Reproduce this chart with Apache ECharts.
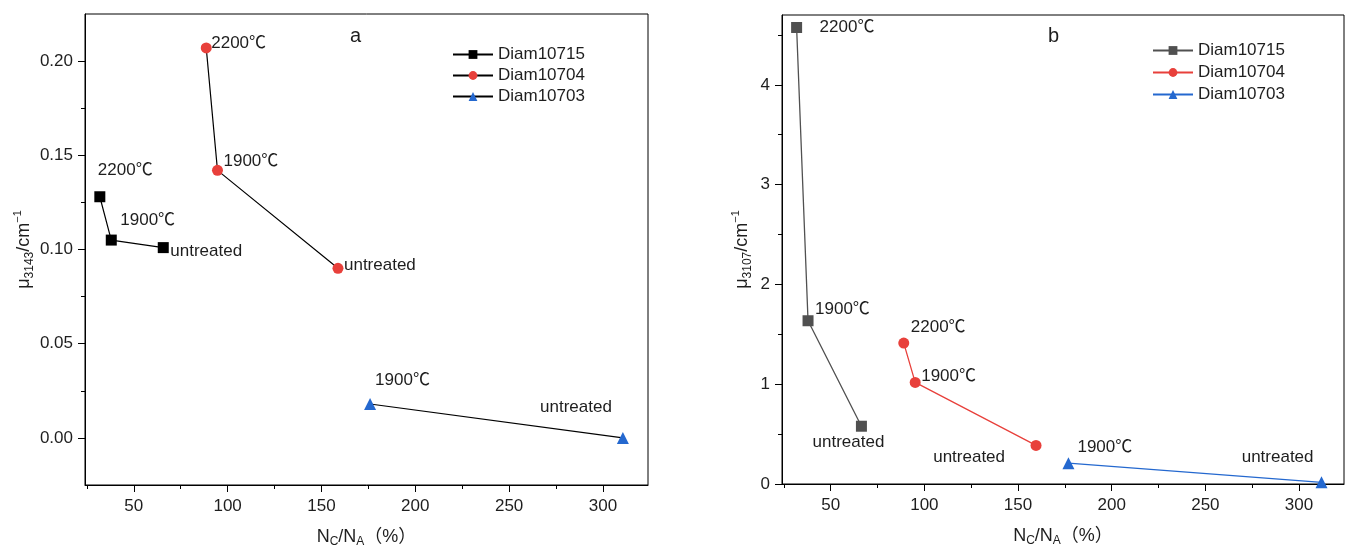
<!DOCTYPE html>
<html>
<head>
<meta charset="utf-8">
<script src="https://cdn.jsdelivr.net/npm/echarts@6/dist/echarts.min.js"></script>
<style>html,body{margin:0;padding:0;background:#fff;}#c{width:1347px;height:547px;}</style>
</head>
<body>
<div id="c"></div>
<script>
// ---- data ----
const seriesNames = ['Diam10715', 'Diam10704', 'Diam10703'];
const xTicks = [50, 100, 150, 200, 250, 300];
const xMinorTicks = [25, 75, 125, 175, 225, 275];
const yTicksA = [0, 0.05, 0.10, 0.15, 0.20];
const yMinorA = [0.025, 0.075, 0.125, 0.175];
const yTicksB = [0, 1, 2, 3, 4];
const yMinorB = [0.5, 1.5, 2.5, 3.5, 4.5];

// panel a : mu3143
const aX10715 = [31.9, 38.0, 65.7];
const aY10715 = [0.128, 0.105, 0.101];
const aX10704 = [88.6, 94.6, 158.8];
const aY10704 = [0.207, 0.142, 0.090];
const aX10703 = [175.9, 310.6];
const aY10703 = [0.018, 0.000];
// panel b : mu3107
const bX10715 = [31.8, 37.9, 66.4];
const bY10715 = [4.575, 1.636, 0.579];
const bX10704 = [89.0, 95.1, 159.6];
const bY10704 = [1.412, 1.018, 0.387];
const bX10703 = [176.9, 312.0];
const bY10703 = [0.209, 0.017];

const pointText3 = ['2200℃', '1900℃', 'untreated'];
const pointText2 = ['1900℃', 'untreated'];

// ---- label layout (styling, not data) ----
const layA = {
  s1: [[-2, -26, 'left'], [9, -20, 'left'], [7, 4, 'left']],
  s2: [[5, -5, 'left'], [6, -9, 'left'], [6, -3, 'left']],
  s3: [[5, -24, 'left'], [-11, -31, 'right']]
};
const layB = {
  s1: [[23, 0, 'left'], [7, -11, 'left'], [-13, 16, 'center']],
  s2: [[7, -16, 'left'], [6, -6, 'left'], [-31, 12, 'right']],
  s3: [[9, -16, 'left'], [-8, -25, 'right']]
};

const FONT = '"Liberation Sans", Arial, "Noto Sans CJK SC", sans-serif';
const TXT = '#1e1e1e';
const RED = '#e8403b';
const BLUE = '#2468cf';

function pts(xs, ys, texts, lay) {
  return xs.map((x, i) => ({
    value: [x, ys[i]],
    label: {
      show: true, formatter: texts[i], position: 'inside',
      offset: [lay[i][0], lay[i][1]], align: lay[i][2], verticalAlign: 'middle',
      fontSize: 17, color: TXT, fontFamily: FONT
    }
  }));
}

function mainX(g) {
  return {
    type: 'value', gridIndex: g, min: 24, max: 324, position: 'bottom',
    axisLine: { show: true, onZero: false, lineStyle: { color: '#000', width: 1 } },
    axisTick: { show: true, inside: false, length: 7, customValues: xTicks, lineStyle: { color: '#000' } },
    axisLabel: { customValues: xTicks, margin: 13, fontSize: 17, color: TXT, fontFamily: FONT },
    splitLine: { show: false },
    name: 'N{sub|C}/N{sub|A}（%）', nameLocation: 'middle', nameGap: 41,
    nameTextStyle: {
      fontSize: 18, color: TXT, fontFamily: FONT, lineHeight: 22,
      rich: { sub: { fontSize: 12, verticalAlign: 'bottom', lineHeight: 14, color: TXT, fontFamily: FONT } }
    }
  };
}
function minorX(g) {
  return {
    type: 'value', gridIndex: g, min: 24, max: 324, position: 'bottom',
    axisLine: { show: false, onZero: false },
    axisTick: { show: true, inside: false, length: 4, customValues: xMinorTicks, lineStyle: { color: '#000' } },
    axisLabel: { show: false }, splitLine: { show: false }
  };
}
function mainY(g, min, max, ticks, fmt, nameStr, gap) {
  return {
    type: 'value', gridIndex: g, min: min, max: max, position: 'left',
    axisLine: { show: true, onZero: false, lineStyle: { color: '#000', width: 1 } },
    axisTick: { show: true, inside: false, length: 7, customValues: ticks, lineStyle: { color: '#000' } },
    axisLabel: { customValues: ticks, margin: 12, fontSize: 17, color: TXT, fontFamily: FONT, formatter: fmt },
    splitLine: { show: false },
    name: nameStr, nameLocation: 'middle', nameRotate: 90, nameGap: gap,
    nameTextStyle: {
      fontSize: 18, color: TXT, fontFamily: FONT, lineHeight: 24,
      rich: {
        sub: { fontSize: 12, verticalAlign: 'bottom', lineHeight: 15, color: TXT, fontFamily: FONT },
        sup: { fontSize: 11, verticalAlign: 'top', lineHeight: 14, color: TXT, fontFamily: FONT }
      }
    }
  };
}
function minorY(g, min, max, ticks) {
  return {
    type: 'value', gridIndex: g, min: min, max: max, position: 'left',
    axisLine: { show: false, onZero: false },
    axisTick: { show: true, inside: false, length: 4, customValues: ticks, lineStyle: { color: '#000' } },
    axisLabel: { show: false }, splitLine: { show: false }
  };
}

function lineSeries(name, xi, yi, data, symbol, size, markColor, lineColor, lw) {
  return {
    name: name, type: 'line', xAxisIndex: xi, yAxisIndex: yi, data: data,
    symbol: symbol, symbolSize: size, showAllSymbol: true,
    itemStyle: { color: markColor },
    lineStyle: { color: lineColor, width: lw },
    emphasis: { disabled: true }, z: 3
  };
}

const chart = echarts.init(document.getElementById('c'), null, { renderer: 'canvas' });
chart.setOption({
  animation: false,
  backgroundColor: '#fff',
  title: [
    { text: 'a', left: 345, top: 21, textStyle: { fontSize: 20, fontWeight: 'normal', color: TXT, fontFamily: FONT } },
    { text: 'b', left: 1043, top: 21, textStyle: { fontSize: 20, fontWeight: 'normal', color: TXT, fontFamily: FONT } }
  ],
  grid: [
    { left: 85, top: 14, width: 563, height: 471, show: true, borderColor: '#000', borderWidth: 1, backgroundColor: 'transparent', containLabel: false, outerBoundsMode: 'none' },
    { left: 782, top: 15, width: 562, height: 469, show: true, borderColor: '#000', borderWidth: 1, backgroundColor: 'transparent', containLabel: false, outerBoundsMode: 'none' }
  ],
  legend: [
    {
      data: seriesNames, orient: 'vertical', left: 447, top: 41, itemWidth: 40, itemHeight: 11, itemGap: 4,
      textStyle: { fontSize: 17, color: TXT, fontFamily: FONT }, selectedMode: false
    },
    {
      data: seriesNames.map(n => 'b:' + n), orient: 'vertical', left: 1147, top: 37, itemWidth: 40, itemHeight: 11, itemGap: 5,
      formatter: n => n.replace(/^b:/, ''),
      textStyle: { fontSize: 17, color: TXT, fontFamily: FONT }, selectedMode: false
    }
  ],
  xAxis: [mainX(0), minorX(0), mainX(1), minorX(1)],
  yAxis: [
    mainY(0, -0.025, 0.225, yTicksA, v => v.toFixed(2), '{mu|μ}{sub|3143}/cm{sup|−1}', 49),
    minorY(0, -0.025, 0.225, yMinorA),
    mainY(1, 0, 4.7, yTicksB, v => String(v), '{mu|μ}{sub|3107}/cm{sup|−1}', 28),
    minorY(1, 0, 4.7, yMinorB)
  ],
  series: [
    lineSeries(seriesNames[0], 0, 0, pts(aX10715, aY10715, pointText3, layA.s1), 'rect', 11, '#000', '#000', 1.2),
    lineSeries(seriesNames[1], 0, 0, pts(aX10704, aY10704, pointText3, layA.s2), 'circle', 11, RED, '#000', 1.2),
    lineSeries(seriesNames[2], 0, 0, pts(aX10703, aY10703, pointText2, layA.s3), 'triangle', 12, BLUE, '#000', 1.2),
    lineSeries('b:' + seriesNames[0], 2, 2, pts(bX10715, bY10715, pointText3, layB.s1), 'rect', 11, '#505050', '#505050', 1.3),
    lineSeries('b:' + seriesNames[1], 2, 2, pts(bX10704, bY10704, pointText3, layB.s2), 'circle', 11, RED, RED, 1.3),
    lineSeries('b:' + seriesNames[2], 2, 2, pts(bX10703, bY10703, pointText2, layB.s3), 'triangle', 12, BLUE, BLUE, 1.3)
  ]
});
</script>
</body>
</html>
